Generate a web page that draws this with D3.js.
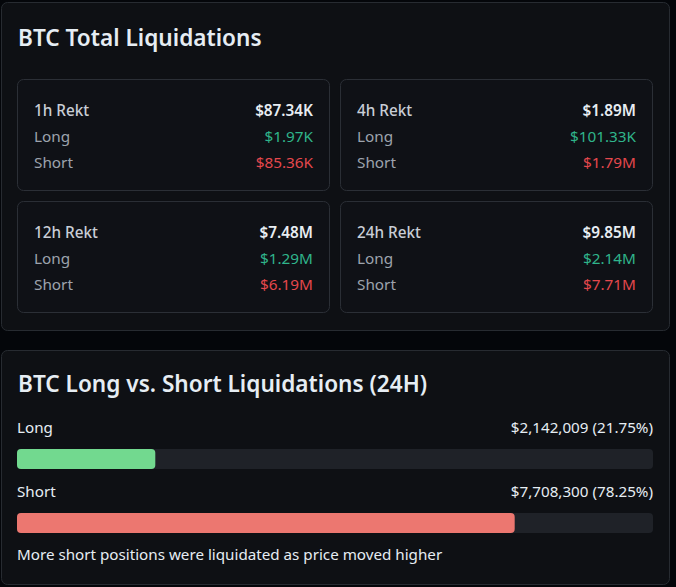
<!DOCTYPE html>
<html>
<head>
<meta charset="utf-8">
<script src="https://cdn.jsdelivr.net/npm/d3@7"></script>
<style>
  html, body { margin: 0; padding: 0; background: #04060a; }
  svg { display: block; font-family: "Noto Sans", sans-serif; }
</style>
</head>
<body>
<svg id="chart" width="676" height="587"></svg>
<script>
// summary boxes
const periods = ["1h", "4h", "12h", "24h"];
const totals = ["$87.34K", "$1.89M", "$7.48M", "$9.85M"];
const longs = ["$1.97K", "$101.33K", "$1.29M", "$2.14M"];
const shorts = ["$85.36K", "$1.79M", "$6.19M", "$7.71M"];

// 24h split
const sides = ["Long", "Short"];
const sideValues = [2142009, 7708300];
const sideColors = ["#72d98f", "#ec7770"];
const note = "More short positions were liquidated as price moved higher";

const svg = d3.select("#chart");

function card(x, y, w, h) {
    svg.append("rect")
        .attr("x", x + 0.5).attr("y", y + 0.5)
        .attr("width", w).attr("height", h)
        .attr("rx", 6)
        .attr("fill", "#0e1014")
        .attr("stroke", "#272b31");
}

card(1, 2, 668, 328);
card(1, 350, 668, 234);

svg.append("text")
    .attr("x", 18).attr("y", 46)
    .attr("fill", "#e6edf3")
    .style("font-size", "22.6px").style("font-weight", 600)
    .text("BTC Total Liquidations");

const col = d3.scaleBand().domain([0, 1]).range([17, 652]).paddingInner(0.034);
const row = d3.scaleBand().domain([0, 1]).range([79, 312]).paddingInner(0.09);

const boxes = svg.selectAll("g.box")
    .data(periods)
    .enter()
    .append("g")
    .attr("class", "box")
    .attr("transform", function(d, i) { return "translate(" + col(i % 2) + "," + row(Math.floor(i / 2)) + ")"; });

boxes.append("rect")
    .attr("x", 0.5).attr("y", 0.5)
    .attr("width", col.bandwidth()).attr("height", row.bandwidth())
    .attr("rx", 6)
    .attr("fill", "#0f1116")
    .attr("stroke", "#2b2f36");

const lines = [
    { label: function(d) { return d + " Rekt"; }, value: totals, color: "#e8edf2", weight: 600, lc: "#c9ced6", lw: 500 },
    { label: function() { return "Long"; }, value: longs, color: "#2fb58b", weight: 400, lc: "#9da3ad", lw: 400 },
    { label: function() { return "Short"; }, value: shorts, color: "#e5484d", weight: 400, lc: "#9da3ad", lw: 400 }
];

lines.forEach(function(l, k) {
    boxes.append("text")
        .attr("x", 17).attr("y", 37 + k * 26)
        .attr("fill", l.lc)
        .style("font-size", "15.3px").style("font-weight", l.lw)
        .text(function(d) { return l.label(d); });

    boxes.append("text")
        .attr("x", col.bandwidth() - 16).attr("y", 37 + k * 26)
        .attr("text-anchor", "end")
        .attr("fill", l.color)
        .style("font-size", "15.3px").style("font-weight", l.weight)
        .text(function(d, i) { return l.value[i]; });
});

// second card
svg.append("text")
    .attr("x", 18).attr("y", 392)
    .attr("fill", "#e6edf3")
    .style("font-size", "22.6px").style("font-weight", 600)
    .text("BTC Long vs. Short Liquidations (24H)");

const total = d3.sum(sideValues);
const x = d3.scaleLinear().domain([0, total]).range([17, 653]);
const fmt = d3.format(",");
const pct = d3.format(".2f");

const bars = svg.selectAll("g.side")
    .data(sides)
    .enter()
    .append("g")
    .attr("class", "side")
    .attr("transform", function(d, i) { return "translate(0," + (i * 64) + ")"; });

bars.append("text")
    .attr("x", 17).attr("y", 433)
    .attr("fill", "#e6edf3")
    .style("font-size", "15.2px")
    .text(function(d) { return d; });

bars.append("text")
    .attr("x", 653).attr("y", 433)
    .attr("text-anchor", "end")
    .attr("fill", "#e6edf3")
    .style("font-size", "15.2px")
    .text(function(d, i) { return "$" + fmt(sideValues[i]) + " (" + pct(sideValues[i] / total * 100) + "%)"; });

bars.append("rect")
    .attr("x", x(0)).attr("y", 449)
    .attr("width", x(total) - x(0)).attr("height", 20)
    .attr("rx", 4)
    .attr("fill", "#1f2228");

bars.append("rect")
    .attr("x", x(0)).attr("y", 449)
    .attr("width", function(d, i) { return x(sideValues[i]) - x(0); })
    .attr("height", 20)
    .attr("rx", 4)
    .attr("fill", function(d, i) { return sideColors[i]; });

svg.append("text")
    .attr("x", 17).attr("y", 560)
    .attr("fill", "#e6edf3")
    .style("font-size", "15.2px")
    .text(note);
</script>
</body>
</html>
